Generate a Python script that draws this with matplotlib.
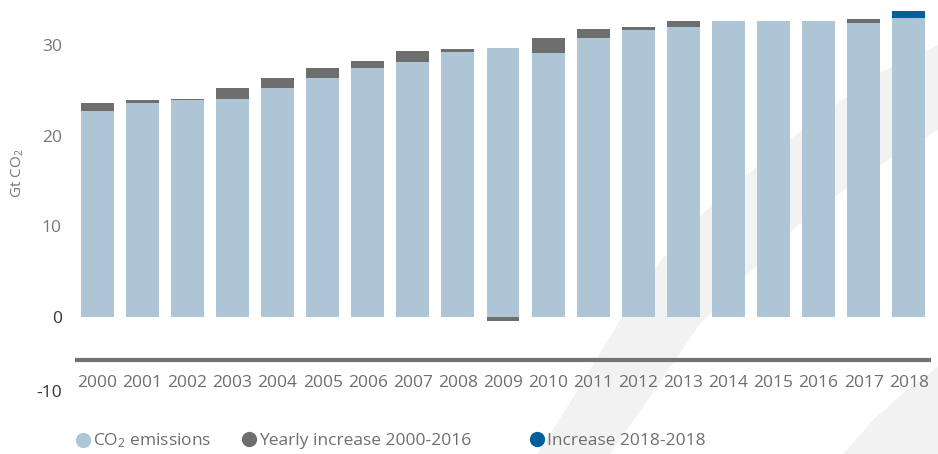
import matplotlib
matplotlib.use("Agg")
import matplotlib.pyplot as plt
from matplotlib.lines import Line2D
from matplotlib.patches import Polygon

plt.rcParams['font.family'] = ['Open Sans', 'DejaVu Sans']
plt.rcParams['mathtext.default'] = 'regular'

years = [str(y) for y in range(2000, 2019)]
# Gt CO2, stacked: base emissions + yearly change on top
emissions = [22.7, 23.6, 23.9, 24.1, 25.3, 26.4, 27.5, 28.2, 29.3, 29.7,
             29.1, 30.8, 31.7, 32.0, 32.65, 32.65, 32.65, 32.5, 33.0]
increase = [0.9, 0.3, 0.2, 1.2, 1.1, 1.1, 0.8, 1.2, 0.3, -0.45,
            1.65, 1.0, 0.3, 0.65, 0.0, 0.0, 0.0, 0.45, 0.0]
increase_2018 = [0, 0, 0, 0, 0, 0, 0, 0, 0, 0,
                 0, 0, 0, 0, 0, 0, 0, 0, 0.8]

C_EMIS = '#adc5d4'
C_INC = '#6e6e6e'
C_2018 = '#00609c'
C_TEXT = '#6e6e6e'

W, H = 938, 454
fig = plt.figure(figsize=(W / 100, H / 100), dpi=100)


def px(x, y):
    return (x / W, 1 - y / H)


# light curved bands in the background (pixel outlines)
band_a = [(537, 454), (575, 395), (620, 320), (660, 262), (699, 217), (744, 177),
          (789, 140), (833, 107), (880, 73), (938, 45),
          (938, 130), (880, 165), (833, 198), (789, 233), (744, 278), (699, 325),
          (665, 375), (635, 418), (610, 454)]
band_b = [(843, 454), (875, 418), (905, 392), (938, 367), (938, 454)]
for pts in (band_a, band_b):
    fig.patches.append(Polygon([px(*p) for p in pts], closed=True,
                               transform=fig.transFigure, facecolor='#f2f2f2',
                               edgecolor='none', zorder=-1))

ax = fig.add_axes([77 / W, (H - 360) / H, (929 - 77) / W, 360 / H])
ax.patch.set_alpha(0)

x = range(len(years))
bw = 0.73
ax.bar(x, emissions, width=bw, color=C_EMIS, zorder=2)
inc_bottom = [e if v >= 0 else 0 for e, v in zip(emissions, increase)]
ax.bar(x, increase, bottom=inc_bottom, width=bw, color=C_INC, zorder=2)
ax.bar(x, increase_2018, bottom=emissions, width=bw, color=C_2018, zorder=2)

ax.set_xlim(-0.45, 18.45)
ax.set_ylim(-4.8, 35)

for s in ['top', 'right', 'left']:
    ax.spines[s].set_visible(False)
ax.spines['bottom'].set_color('#737373')
ax.spines['bottom'].set_linewidth(3)

ax.set_xticks(list(x), years)
ax.set_yticks([0, 10, 20, 30])
ax.tick_params(axis='x', length=0, pad=11, labelsize=12.5, colors=C_TEXT)
ax.tick_params(axis='y', length=0, pad=11, labelsize=12.5, colors='#777777')
ax.get_yticklabels()[0].set_color('#333333')
ax.text(-0.0176, -8.5, '-10', transform=ax.get_yaxis_transform(), ha='right',
        va='center', fontsize=12.5, color='#333333')

fig.text(18 / W, 1 - 173 / H, 'Gt CO$_2$', rotation=90, ha='center', va='center',
         fontsize=11, color='#777777')

# legend entries
items = [(C_EMIS, 'CO$_2$ emissions', 74),
         (C_INC, 'Yearly increase 2000-2016', 240),
         (C_2018, 'Increase 2018-2018', 528)]
for col, lab, lx in items:
    h = Line2D([], [], marker='o', linestyle='none', markersize=11,
               markerfacecolor=col, markeredgecolor='none')
    fig.legend(handles=[h], labels=[lab], loc='center left',
               bbox_to_anchor=px(lx, 441), frameon=False, fontsize=12.5,
               handletextpad=0.1, handlelength=1.0, borderpad=0, borderaxespad=0,
               labelcolor=C_TEXT)

fig.savefig('out.png', dpi=100)
